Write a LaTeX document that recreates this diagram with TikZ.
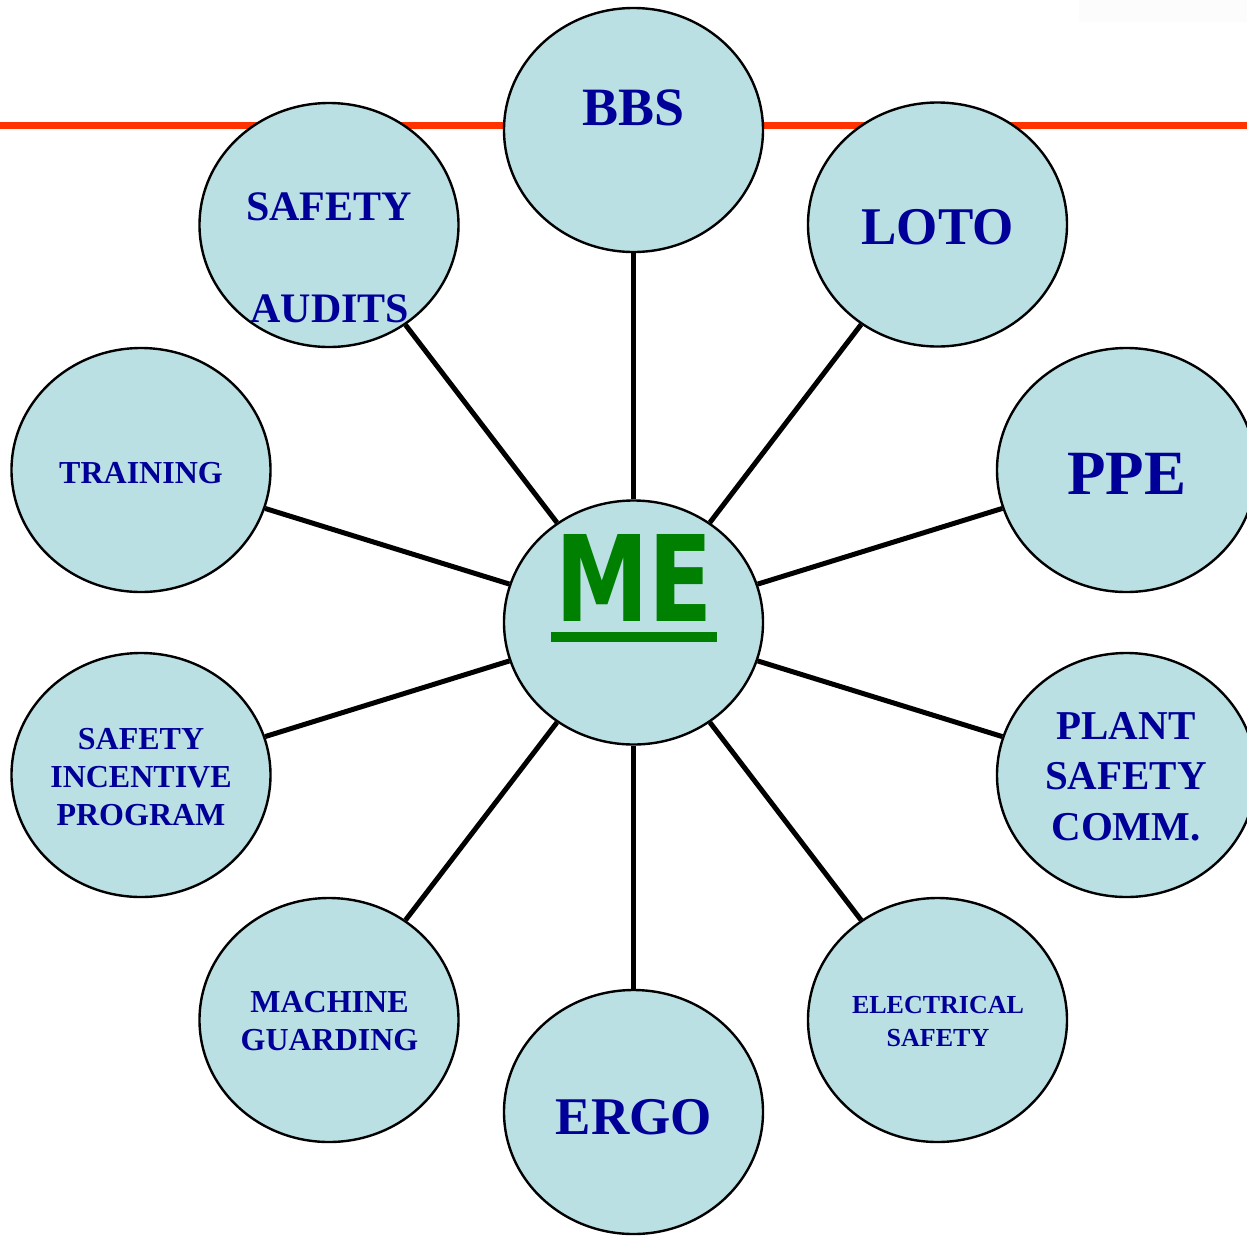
\documentclass[tikz,border=0pt]{standalone}
\usepackage{fontspec}
\setmainfont{Liberation Serif}
\newfontfamily\mefont{DejaVu Sans}
\usetikzlibrary{shapes.geometric}
\definecolor{bubble}{RGB}{186,224,227}
\definecolor{lblue}{RGB}{0,0,153}
\definecolor{redline}{RGB}{255,51,0}
\definecolor{megreen}{RGB}{0,128,0}
\definecolor{faint}{RGB}{252,252,252}
\tikzset{
  bub/.style={ellipse, draw=black, line width=2.4pt, fill=bubble, minimum width=259pt, minimum height=244pt, inner sep=0pt},
  lbl/.style={text=lblue, inner sep=0pt, anchor=base, font=\bfseries\fontsize{#1}{#1}\selectfont},
  conn/.style={draw=black, line width=5pt}
}
\begin{document}
\begin{tikzpicture}[x=1pt,y=-1pt]
\useasboundingbox (0,0) rectangle (1247,1235);
\fill[faint] (1079,0) rectangle (1247,22);
\draw[redline, line width=7pt] (0,125) -- (1247,125);
% nodes
\node[bub] (me) at (633.5,622.5) {};
\node[bub] (bbs) at (633.5,130) {};
\node[bub] (loto) at (937.5,224.5) {};
\node[bub] (ppe) at (1126.5,470) {};
\node[bub] (plant) at (1126.5,775) {};
\node[bub] (elec) at (937.5,1020) {};
\node[bub] (ergo) at (633.5,1112) {};
\node[bub] (mach) at (329,1020) {};
\node[bub] (inc) at (141,775) {};
\node[bub] (train) at (141,470) {};
\node[bub] (audits) at (329,225) {};
% connectors
\foreach \n in {bbs,loto,ppe,plant,elec,ergo,mach,inc,train,audits}
  \draw[conn] (me) -- (\n);
% labels
\node[lbl=54] (tbbs) at (633.5,125) {BBS};
\node[lbl=53] (tloto) at (937.5,244) {LOTO};
\node[lbl=63] (tppe) at (1126.5,494) {PPE};
\node[lbl=41] (tplant1) at (1126,739) {PLANT};
\node[lbl=41] (tplant2) at (1126,789.5) {SAFETY};
\node[lbl=41] (tplant3) at (1126,840) {COMM.};
\node[lbl=26] (telec1) at (938,1013) {ELECTRICAL};
\node[lbl=26] (telec2) at (938,1046) {SAFETY};
\node[lbl=53] (tergo) at (634,1134) {ERGO};
\node[lbl=32] (tmach1) at (329.5,1012) {MACHINE};
\node[lbl=32] (tmach2) at (329.5,1050) {GUARDING};
\node[lbl=32] (tinc1) at (141,749) {SAFETY};
\node[lbl=32] (tinc2) at (141,787) {INCENTIVE};
\node[lbl=32] (tinc3) at (141,825) {PROGRAM};
\node[lbl=32] (ttrain) at (141,483) {TRAINING};
\node[lbl=42] (taud1) at (329,220) {SAFETY};
\node[lbl=42] (taud2) at (330,322) {AUDITS};
% ME
\node[inner sep=0pt, anchor=south, text=megreen] (tme) at (634,622) {\resizebox{158pt}{87pt}{\mefont\bfseries ME}};
\fill[megreen] (551,632) rectangle (717,642);
\end{tikzpicture}
\end{document}
